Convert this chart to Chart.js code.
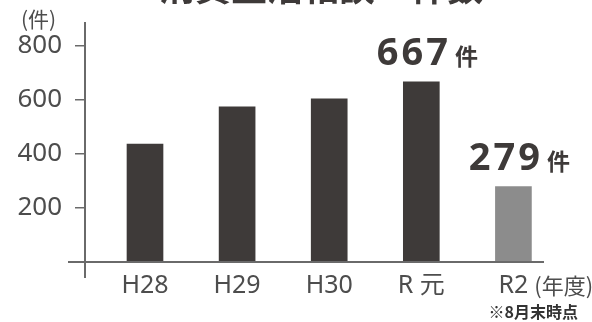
<!DOCTYPE html>
<html lang="ja">
<head>
<meta charset="utf-8">
<script src="https://cdn.jsdelivr.net/npm/chart.js@4"></script>
<style>
  html, body { margin: 0; padding: 0; background: #ffffff; }
  #wrap { width: 592px; height: 322px; position: relative; }
</style>
</head>
<body>
<div id="wrap"><canvas id="c" width="592" height="322"></canvas></div>
<script>
// ---- data ----
const categories = ["H28", "H29", "H30", "R 元", "R2"];
const counts = [437, 575, 604, 667, 279];
const labelledBars = [false, false, false, true, true];
const yTicks = [0, 200, 400, 600, 800];
const titleText = "消費生活相談　件数";
const yUnitText = "(件)";
const xUnitText = "(年度)";
const valueUnitText = "件";
const noteText = "※8月末時点";

// ---- style ----
const DARK = "#3e3a39";
const GRAY_BAR = "#8c8c8c";
const AXIS = "#6a6a6a";
const TEXT = "#4d4d4d";
const FONT = '"Noto Sans", "Noto Sans CJK JP", sans-serif';
const CJK = '"Noto Sans CJK JP", "Noto Sans", sans-serif';

Chart.defaults.font.family = FONT;

const overlay = {
  id: "overlay",
  afterDraw(chart) {
    const { ctx, chartArea: a, scales: { x } } = chart;
    ctx.save();
    // axis lines (crossing style)
    ctx.strokeStyle = AXIS;
    ctx.lineWidth = 2;
    ctx.beginPath();
    ctx.moveTo(a.left, a.top - 24);
    ctx.lineTo(a.left, a.bottom + 16);
    ctx.stroke();
    ctx.beginPath();
    ctx.moveTo(a.left - 17, a.bottom);
    ctx.lineTo(a.right, a.bottom);
    ctx.stroke();

    // title (cut off at top)
    ctx.fillStyle = DARK;
    ctx.font = "bold 36px " + CJK;
    ctx.textAlign = "center";
    ctx.textBaseline = "ideographic";
    ctx.fillText(titleText, 321, 5);

    // y unit
    ctx.fillStyle = TEXT;
    ctx.font = "21px " + CJK;
    ctx.textAlign = "left";
    ctx.textBaseline = "alphabetic";
    ctx.fillText(yUnitText, a.left - 64, 27);

    // x unit after last label
    ctx.font = "25px " + FONT;
    const lastW = ctx.measureText(categories[categories.length - 1]).width;
    const lastX = x.getPixelForValue(categories.length);
    ctx.font = "22px " + CJK;
    ctx.fillText(xUnitText, lastX + lastW / 2 + 6, 294);

    // note
    ctx.fillStyle = "#333333";
    ctx.font = "bold 16px " + CJK;
    ctx.textAlign = "right";
    ctx.fillText(noteText, 578, 318);

    // value labels
    const meta = chart.getDatasetMeta(0);
    meta.data.forEach((el, i) => {
      if (!labelledBars[i]) return;
      const num = String(counts[i]);
      ctx.fillStyle = DARK;
      ctx.textAlign = "left";
      ctx.textBaseline = "alphabetic";
      ctx.font = "bold 38px " + FONT;
      ctx.letterSpacing = "3px";
      const wNum = ctx.measureText(num).width;
      ctx.letterSpacing = "0px";
      ctx.font = "bold 23px " + CJK;
      const wUnit = ctx.measureText(valueUnitText).width;
      const total = wNum + 4 + wUnit;
      const sx = el.x + 6 - total / 2;
      const by = el.y - 17;
      ctx.font = "bold 38px " + FONT;
      ctx.letterSpacing = "3px";
      ctx.fillText(num, sx, by);
      ctx.letterSpacing = "0px";
      ctx.font = "bold 23px " + CJK;
      ctx.fillText(valueUnitText, sx + wNum + 4, by);
    });
    ctx.restore();
  }
};

const xMin = 0.3485;
const xMax = 5.332;

new Chart(document.getElementById("c"), {
  type: "bar",
  data: {
    datasets: [{
      data: counts.map((v, i) => ({ x: i + 1, y: v })),
      backgroundColor: counts.map((_, i) => (i === counts.length - 1 ? GRAY_BAR : DARK)),
      borderWidth: 0,
      barThickness: 36
    }]
  },
  options: {
    responsive: false,
    animation: false,
    events: [],
    layout: { padding: { top: 46, right: 48, bottom: 0, left: 0 } },
    plugins: { legend: { display: false }, tooltip: { enabled: false }, title: { display: false } },
    scales: {
      x: {
        type: "linear",
        offset: false,
        min: xMin,
        max: xMax,
        afterBuildTicks: s => { s.ticks = categories.map((_, i) => ({ value: i + 1 })); },
        afterFit: s => { s.height = 60; },
        grid: { display: false, drawTicks: false, offset: false },
        border: { display: false },
        ticks: {
          autoSkip: false,
          maxRotation: 0,
          padding: 9,
          color: TEXT,
          font: { size: 25 },
          callback: v => categories[Math.round(v) - 1] ?? ""
        }
      },
      y: {
        min: 0,
        max: 800,
        afterBuildTicks: s => { s.ticks = yTicks.map(v => ({ value: v })); },
        afterFit: s => { s.width = 85; },
        grid: { drawOnChartArea: false, drawTicks: true, tickLength: 10, color: AXIS, lineWidth: 1.5 },
        border: { display: false },
        ticks: {
          padding: 13,
          color: TEXT,
          font: { size: 26 },
          callback: v => (v === 0 ? "" : String(v))
        }
      }
    }
  },
  plugins: [overlay]
});
</script>
</body>
</html>
